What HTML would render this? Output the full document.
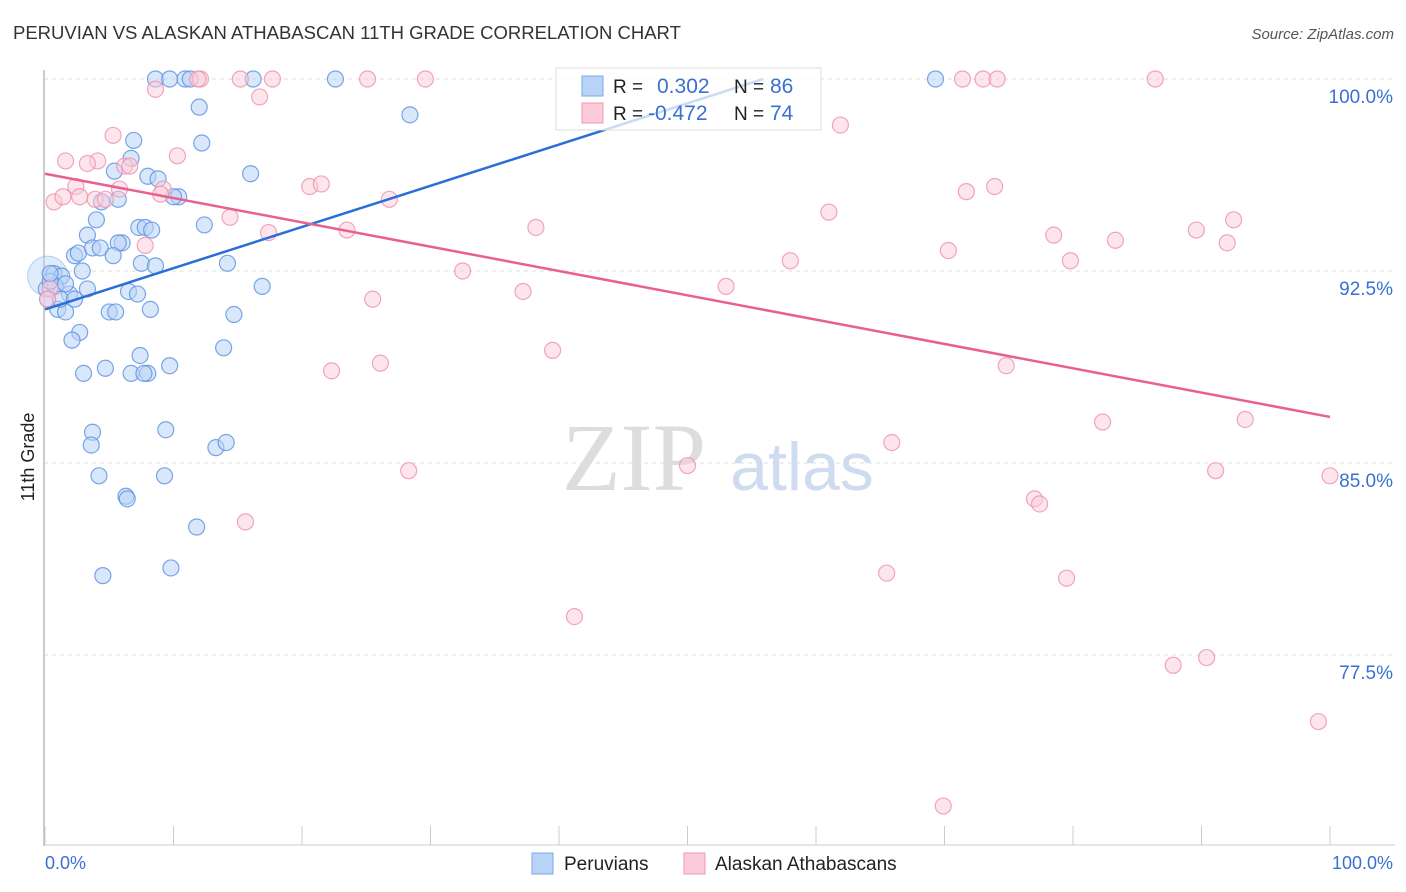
<!DOCTYPE html>
<html><head><meta charset="utf-8"><style>
body{margin:0;background:#fff;font-family:"Liberation Sans",sans-serif}
#c{position:absolute;left:0;top:0}
</style></head><body>
<svg id="c" width="1406" height="892" xmlns="http://www.w3.org/2000/svg">
<text x="13" y="39" font-size="18.5" fill="#333">PERUVIAN VS ALASKAN ATHABASCAN 11TH GRADE CORRELATION CHART</text>
<text x="1394" y="39" font-size="15" fill="#555" font-style="italic" text-anchor="end">Source: ZipAtlas.com</text>
<text x="0" y="0" font-size="18" fill="#222" transform="translate(34,457) rotate(-90)" text-anchor="middle">11th Grade</text>
<g id="grid"></g>
<line x1="44" y1="70" x2="44" y2="846" stroke="#bbb" stroke-width="1.5"/>
<line x1="44" y1="845" x2="1395" y2="845" stroke="#ccc" stroke-width="1"/>
<g id="xticks"></g>
<text x="634" y="490" font-size="96" fill="#ddd" font-family="Liberation Serif,serif" text-anchor="middle">ZIP</text>
<text x="802" y="490" font-size="68" fill="#cfdcf0" text-anchor="middle">atlas</text>
<g id="pts"></g>
<g id="trend"></g>
<g>
<rect x="556" y="68" width="265" height="62" fill="#fff" fill-opacity="0.75" stroke="#ddd"/>
<rect x="582" y="76" width="21" height="20" fill="#b9d3f6" stroke="#7aa9e8"/>
<rect x="582" y="103" width="21" height="20" fill="#fbcbd9" stroke="#ef9ab4"/>
<text x="613" y="93" font-size="19" fill="#222">R = </text><text x="657" y="93" font-size="21" fill="#3a70d0">0.302</text>
<text x="734" y="93" font-size="19" fill="#222">N = </text><text x="770" y="93" font-size="21" fill="#3a70d0">86</text>
<text x="613" y="120" font-size="19" fill="#222">R = </text><text x="648" y="120" font-size="21" fill="#3a70d0">-0.472</text>
<text x="734" y="120" font-size="19" fill="#222">N = </text><text x="770" y="120" font-size="21" fill="#3a70d0">74</text>
</g>
<text x="45" y="869" font-size="18" fill="#3a70d0">0.0%</text>
<text x="1393" y="869" font-size="18" fill="#3a70d0" text-anchor="end">100.0%</text>
<g>
<rect x="532" y="853" width="21" height="21" fill="#b9d3f6" stroke="#7aa9e8"/>
<text x="564" y="870" font-size="19" fill="#222">Peruvians</text>
<rect x="684" y="853" width="21" height="21" fill="#fbcbd9" stroke="#ef9ab4"/>
<text x="715" y="870" font-size="19" fill="#222">Alaskan Athabascans</text>
</g>
</svg>
<script>
const yTicks=[100,92.5,85,77.5];
const yTickLabels=["100.0%","92.5%","85.0%","77.5%"];
const xTicks=[0,10,20,30,40,50,60,70,80,90,100];
const blueX=[8.6,9.7,10.9,11.3,22.6,16.2,69.3,12.0,28.4,6.9,12.2,6.7,16.0,5.4,8.0,8.8,10.4,10.0,4.4,5.7,4.0,12.4,7.3,7.8,8.3,3.3,6.0,5.7,2.3,2.6,3.7,4.3,5.3,7.5,8.6,14.2,0.7,1.3,2.9,0.1,0.8,1.9,3.3,6.5,7.2,16.9,1.0,1.6,5.0,5.5,8.2,14.7,2.7,2.1,7.4,13.9,4.7,3.0,6.7,8.0,9.7,7.7,3.7,3.6,9.4,13.3,14.1,4.2,9.3,6.3,6.4,11.8,4.5,9.8,0.4,0.2,1.2,1.6,0.4,2.3];
const blueY=[100,100,100,100,100,100,100,98.9,98.6,97.6,97.5,96.9,96.3,96.4,96.2,96.1,95.4,95.4,95.2,95.3,94.5,94.3,94.2,94.2,94.1,93.9,93.6,93.6,93.1,93.2,93.4,93.4,93.1,92.8,92.7,92.8,92.4,92.3,92.5,91.8,91.9,91.6,91.8,91.7,91.6,91.9,91.0,90.9,90.9,90.9,91.0,90.8,90.1,89.8,89.2,89.5,88.7,88.5,88.5,88.5,88.8,88.5,86.2,85.7,86.3,85.6,85.8,84.5,84.5,83.7,83.6,82.5,80.6,80.9,92.1,91.4,91.4,92.0,92.4,91.4];
const pinkX=[8.6,12.1,11.9,15.2,17.7,25.1,29.6,71.4,73.0,74.1,86.4,16.7,5.3,1.6,4.1,3.3,6.2,6.6,10.3,61.9,2.4,5.8,9.2,9.0,0.7,1.4,2.7,3.9,4.7,20.6,21.5,71.7,73.9,26.8,14.4,7.8,17.4,23.5,38.2,61.0,92.5,70.3,78.5,83.3,89.6,92.0,79.8,58.0,32.5,37.2,53.0,25.5,39.5,22.3,26.1,74.8,0.4,0.2,65.9,50.0,82.3,93.4,91.1,28.3,100,77.0,77.4,15.6,65.5,79.5,41.2,87.8,90.4,99.1,69.9];
const pinkY=[99.6,100,100,100,100,100,100,100,100,100,100,99.3,97.8,96.8,96.8,96.7,96.6,96.6,97.0,98.2,95.8,95.7,95.7,95.5,95.2,95.4,95.4,95.3,95.3,95.8,95.9,95.6,95.8,95.3,94.6,93.5,94.0,94.1,94.2,94.8,94.5,93.3,93.9,93.7,94.1,93.6,92.9,92.9,92.5,91.7,91.9,91.4,89.4,88.6,88.9,88.8,91.8,91.4,85.8,84.9,86.6,86.7,84.7,84.7,84.5,83.6,83.4,82.7,80.7,80.5,79.0,77.1,77.4,74.9,71.6];
const blueTrend=[91.0,107.1];
const pinkTrend=[96.3,86.8];
const X=v=>45+v*12.85, Y=v=>79+(100-v)*25.6;
const NS="http://www.w3.org/2000/svg";
function mk(t,a,p){const e=document.createElementNS(NS,t);for(const k in a)e.setAttribute(k,a[k]);p.appendChild(e);return e;}
const grid=document.getElementById('grid');
yTicks.forEach((v,i)=>{
 const l=mk('line',{x1:44,x2:1395,y1:Y(v),y2:Y(v),stroke:'#ddd','stroke-dasharray':'4,4'},grid);
 
 
 const t=mk('text',{x:1393,y:Y(v)+24,'font-size':19,fill:'#3a70d0','text-anchor':'end'},grid);
 t.textContent=yTickLabels[i];
 
 
});
const xt=document.getElementById('xticks');
xTicks.forEach(v=>{
 const l=mk('line',{x1:X(v),x2:X(v),y1:826,y2:845,stroke:'#ccc'},xt);
 
 
});
const pts=document.getElementById('pts');
const big=mk('circle',{cx:X(0.2),cy:Y(92.3),r:20,fill:'#b9d3f6','fill-opacity':0.45,stroke:'#7aa9e8','stroke-opacity':0.5},pts);


blueX.forEach((x,i)=>{
 const c=mk('circle',{cx:X(x),cy:Y(blueY[i]),r:8,fill:'#b9d3f6','fill-opacity':0.55,stroke:'#5a90e0','stroke-opacity':0.8,'stroke-width':1.2},pts);
 
 
});
pinkX.forEach((x,i)=>{
 const c=mk('circle',{cx:X(x),cy:Y(pinkY[i]),r:8,fill:'#fbcbd9','fill-opacity':0.5,stroke:'#ee90ad','stroke-opacity':0.8,'stroke-width':1.2},pts);
 
 
});
const tr=document.getElementById('trend');
const bx2=(100-blueTrend[0])/(blueTrend[1]-blueTrend[0])*100;
const bl=mk('line',{x1:X(0),y1:Y(blueTrend[0]),x2:X(bx2),y2:Y(100),stroke:'#2a6fd6','stroke-width':2.5},tr);


const pl=mk('line',{x1:X(0),y1:Y(pinkTrend[0]),x2:X(100),y2:Y(pinkTrend[1]),stroke:'#e8608f','stroke-width':2.5},tr);


</script>
</body></html>
